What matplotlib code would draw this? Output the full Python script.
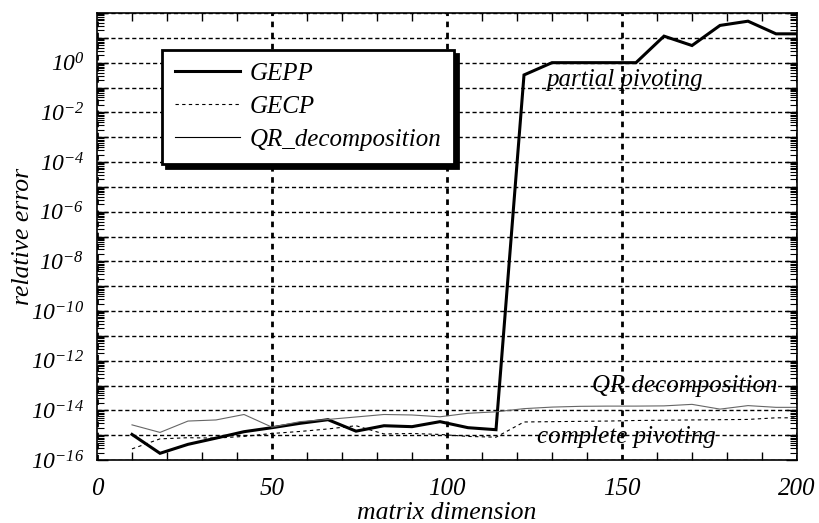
import math
import matplotlib
matplotlib.use("Agg")
import matplotlib.pyplot as plt
from matplotlib.ticker import FixedLocator, FuncFormatter, LogLocator, MultipleLocator, NullFormatter

# ---- data ----
matrix_dim = [10, 18, 26, 34, 42, 50, 58, 66, 74, 82, 90, 98, 106, 114,
              122, 130, 138, 146, 154, 162, 170, 178, 186, 194, 202]
gepp = [1.07e-15, 1.86e-16, 4.27e-16, 7.6e-16, 1.38e-15, 2.0e-15, 3.0e-15, 4.2e-15,
        1.45e-15, 2.4e-15, 2.2e-15, 3.5e-15, 2.0e-15, 1.66e-15,
        0.32, 1.0, 1.0, 1.0, 1.0, 11.7, 4.9, 31.6, 46.8, 14.5, 14.5]
gecp = [2.8e-16, 7.1e-16, 7.9e-16, 7.6e-16, 8.9e-16, 1.17e-15, 1.41e-15, 1.78e-15,
        2.4e-15, 1.12e-15, 1.17e-15, 1.07e-15, 8.9e-16, 8.3e-16,
        3.4e-15, 3.5e-15, 3.6e-15, 3.7e-15, 3.9e-15, 4.0e-15, 4.1e-15, 4.2e-15,
        4.3e-15, 5.0e-15, 5.0e-15]
qr = [2.6e-15, 1.29e-15, 3.7e-15, 4.1e-15, 6.8e-15, 2.1e-15, 3.5e-15, 4.3e-15,
      5.4e-15, 6.8e-15, 6.5e-15, 5.5e-15, 7.6e-15, 8.7e-15,
      1.17e-14, 1.35e-14, 1.45e-14, 1.48e-14, 1.48e-14, 1.51e-14, 1.74e-14,
      1.12e-14, 1.55e-14, 1.32e-14, 1.32e-14]
series_names = ["GEPP", "GECP", "QR_decomposition"]
x_ticks = [0, 50, 100, 150, 200]
y_decades = [1e-16, 1e-15, 1e-14, 1e-13, 1e-12, 1e-11, 1e-10, 1e-9, 1e-8, 1e-7,
             1e-6, 1e-5, 1e-4, 1e-3, 1e-2, 1e-1, 1e0, 1e1, 1e2]
annotations = [("partial pivoting", 128.5, 2.0e-1),
               ("QR decomposition", 141.3, 9.3e-14),
               ("complete pivoting", 125.6, 8.3e-16)]

plt.rcParams["font.family"] = ["Liberation Serif", "DejaVu Serif"]
plt.rcParams["font.style"] = "italic"
plt.rcParams["mathtext.fontset"] = "custom"
plt.rcParams["mathtext.rm"] = "Liberation Serif:italic"
plt.rcParams["mathtext.it"] = "Liberation Serif:italic"
plt.rcParams["mathtext.default"] = "rm"

fig = plt.figure(figsize=(8.2, 5.23), dpi=100)
ax = fig.add_axes([97 / 820, 63 / 523, 700 / 820, 447 / 523])

l1, = ax.plot(matrix_dim, gepp, color="black", lw=2.2, solid_joinstyle="miter")
l2, = ax.plot(matrix_dim, gecp, color="black", lw=0.8, dashes=(3, 3))
l3, = ax.plot(matrix_dim, qr, color="0.4", lw=0.8)

ax.set_yscale("log")
ax.set_xlim(0, 200)
ax.set_ylim(1e-16, 1e2)

ax.xaxis.set_major_locator(FixedLocator(x_ticks))
ax.xaxis.set_minor_locator(MultipleLocator(10))
ax.yaxis.set_major_locator(FixedLocator(y_decades))
ax.yaxis.set_minor_locator(LogLocator(base=10, subs=range(2, 10), numticks=100))
ax.yaxis.set_minor_formatter(NullFormatter())


def yfmt(v, pos):
    e = int(round(math.log10(v)))
    if e % 2 == 0 and e <= 0:
        return r"$10^{%d}$" % e
    return ""


ax.yaxis.set_major_formatter(FuncFormatter(yfmt))
ax.xaxis.set_major_formatter(FuncFormatter(lambda v, p: "%d" % v))

ax.tick_params(which="both", direction="in", top=True, right=True, color="black")
ax.tick_params(axis="y", which="major", length=8, width=1, labelsize=17, pad=9)
ax.tick_params(axis="y", which="minor", length=5, width=0.8)
ax.tick_params(axis="x", which="major", length=0, labelsize=18, pad=13)
ax.tick_params(axis="x", which="minor", length=6, width=1)

ax.grid(True, axis="y", which="major", color="black", lw=1.0, dashes=(3, 2))
ax.grid(True, axis="x", which="major", color="black", lw=2.0, dashes=(2, 2))

for s in ax.spines.values():
    s.set_linewidth(1.2)

ax.set_xlabel("matrix dimension", fontsize=18.5)
ax.xaxis.set_label_coords(0.5, -0.093)
ax.set_ylabel("relative error", fontsize=18.5)
ax.yaxis.set_label_coords(-0.09, 0.5)

for txt, xv, yv in annotations:
    ax.text(xv, yv, txt, fontsize=18, ha="left", va="center")

leg = ax.legend([l1, l2, l3], series_names, loc="upper left",
                bbox_to_anchor=(0.093, 0.917), borderaxespad=0,
                fontsize=18, frameon=True, fancybox=False, handlelength=2.6,
                handletextpad=0.4, labelspacing=0.42, borderpad=0.5,
                shadow={"ox": 3, "oy": -3, "facecolor": "black",
                        "edgecolor": "black", "alpha": 1})
leg.get_frame().set_edgecolor("black")
leg.get_frame().set_linewidth(2.0)
leg.get_frame().set_facecolor("white")
leg.set_zorder(5)
for h in leg.legend_handles:
    h.set_color("black")

fig.savefig("out.png", dpi=100)
